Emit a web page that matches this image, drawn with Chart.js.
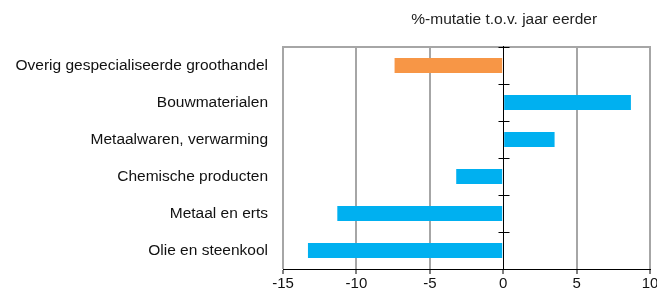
<!DOCTYPE html>
<html>
<head>
<meta charset="utf-8">
<script src="https://cdn.jsdelivr.net/npm/chart.js@4.4.1/dist/chart.umd.min.js"></script>
<style>
html,body{margin:0;padding:0;background:#fff;}
#wrap{width:657px;height:296px;position:relative;}
</style>
</head>
<body>
<div id="wrap"><canvas id="c" width="657" height="296"></canvas></div>
<script>
const categories = [
  "Overig gespecialiseerde groothandel",
  "Bouwmaterialen",
  "Metaalwaren, verwarming",
  "Chemische producten",
  "Metaal en erts",
  "Olie en steenkool"
];
const values = [-7.4, 8.7, 3.5, -3.2, -11.3, -13.3];
const barColors = ["#F79646", "#00B0F0", "#00B0F0", "#00B0F0", "#00B0F0", "#00B0F0"];
const xTicks = [-15, -10, -5, 0, 5, 10];
const unitLabel = "%-mutatie t.o.v. jaar eerder";

const FONT = "'Liberation Sans', Arial, sans-serif";

const framePlugin = {
  id: 'frame',
  afterDraw(chart) {
    const ctx = chart.ctx;
    const a = chart.chartArea;
    const xs = chart.scales.x, ys = chart.scales.y;
    ctx.save();
    // top border
    ctx.strokeStyle = '#a6a6a6';
    ctx.lineWidth = 2;
    ctx.beginPath();
    ctx.moveTo(a.left - 1, a.top);
    ctx.lineTo(a.right + 1, a.top);
    ctx.stroke();
    // category tick marks on the zero line
    const x0 = Math.round(xs.getPixelForValue(0)) + 0.5;
    ctx.strokeStyle = '#000';
    ctx.lineWidth = 1;
    ctx.beginPath();
    ctx.moveTo(x0, a.top - 1);
    ctx.lineTo(x0, a.bottom);
    for (let i = 0; i < categories.length; i++) {
      const y = Math.round(ys.getPixelForValue(i - 0.5)) + 0.5;
      ctx.moveTo(x0 - 5, y);
      ctx.lineTo(x0 + 6, y);
    }
    ctx.stroke();
    // unit label
    ctx.fillStyle = '#222';
    ctx.font = "15.5px " + FONT;
    ctx.textAlign = 'center';
    ctx.textBaseline = 'middle';
    ctx.fillText(unitLabel, xs.getPixelForValue(0) + 1, 20);
    ctx.restore();
  }
};

new Chart(document.getElementById('c'), {
  type: 'bar',
  data: {
    labels: categories,
    datasets: [{
      data: values,
      backgroundColor: barColors,
      borderWidth: 0,
      barPercentage: 0.41,
      categoryPercentage: 1.0
    }]
  },
  options: {
    indexAxis: 'y',
    responsive: false,
    animation: false,
    events: [],
    layout: { padding: { left: 0, right: 7, top: 47, bottom: 0 } },
    plugins: {
      legend: { display: false },
      title: { display: false },
      tooltip: { enabled: false }
    },
    scales: {
      x: {
        min: -15,
        max: 10,
        afterBuildTicks(scale) { scale.ticks = xTicks.map(v => ({ value: v })); },
        afterFit(scale) { scale.height = 27; scale.paddingLeft = 0; scale.paddingRight = 0; },
        grid: {
          color: ctx => (ctx.tick && ctx.tick.value === 0) ? 'rgba(0,0,0,0)' : '#a6a6a6',
          lineWidth: 2,
          tickColor: '#000',
          tickLength: 5,
          tickWidth: 1,
          drawTicks: true
        },
        border: { display: true, color: '#000', width: 1 },
        ticks: {
          color: '#111',
          font: { family: FONT, size: 15 },
          padding: 1,
          maxRotation: 0,
          autoSkip: false
        }
      },
      y: {
        afterFit(scale) { scale.width = 283; },
        grid: { display: false, drawTicks: false },
        border: { display: false },
        ticks: {
          color: '#111',
          font: { family: FONT, size: 15.5 },
          padding: 15,
          autoSkip: false
        }
      }
    }
  },
  plugins: [framePlugin]
});
</script>
</body>
</html>
